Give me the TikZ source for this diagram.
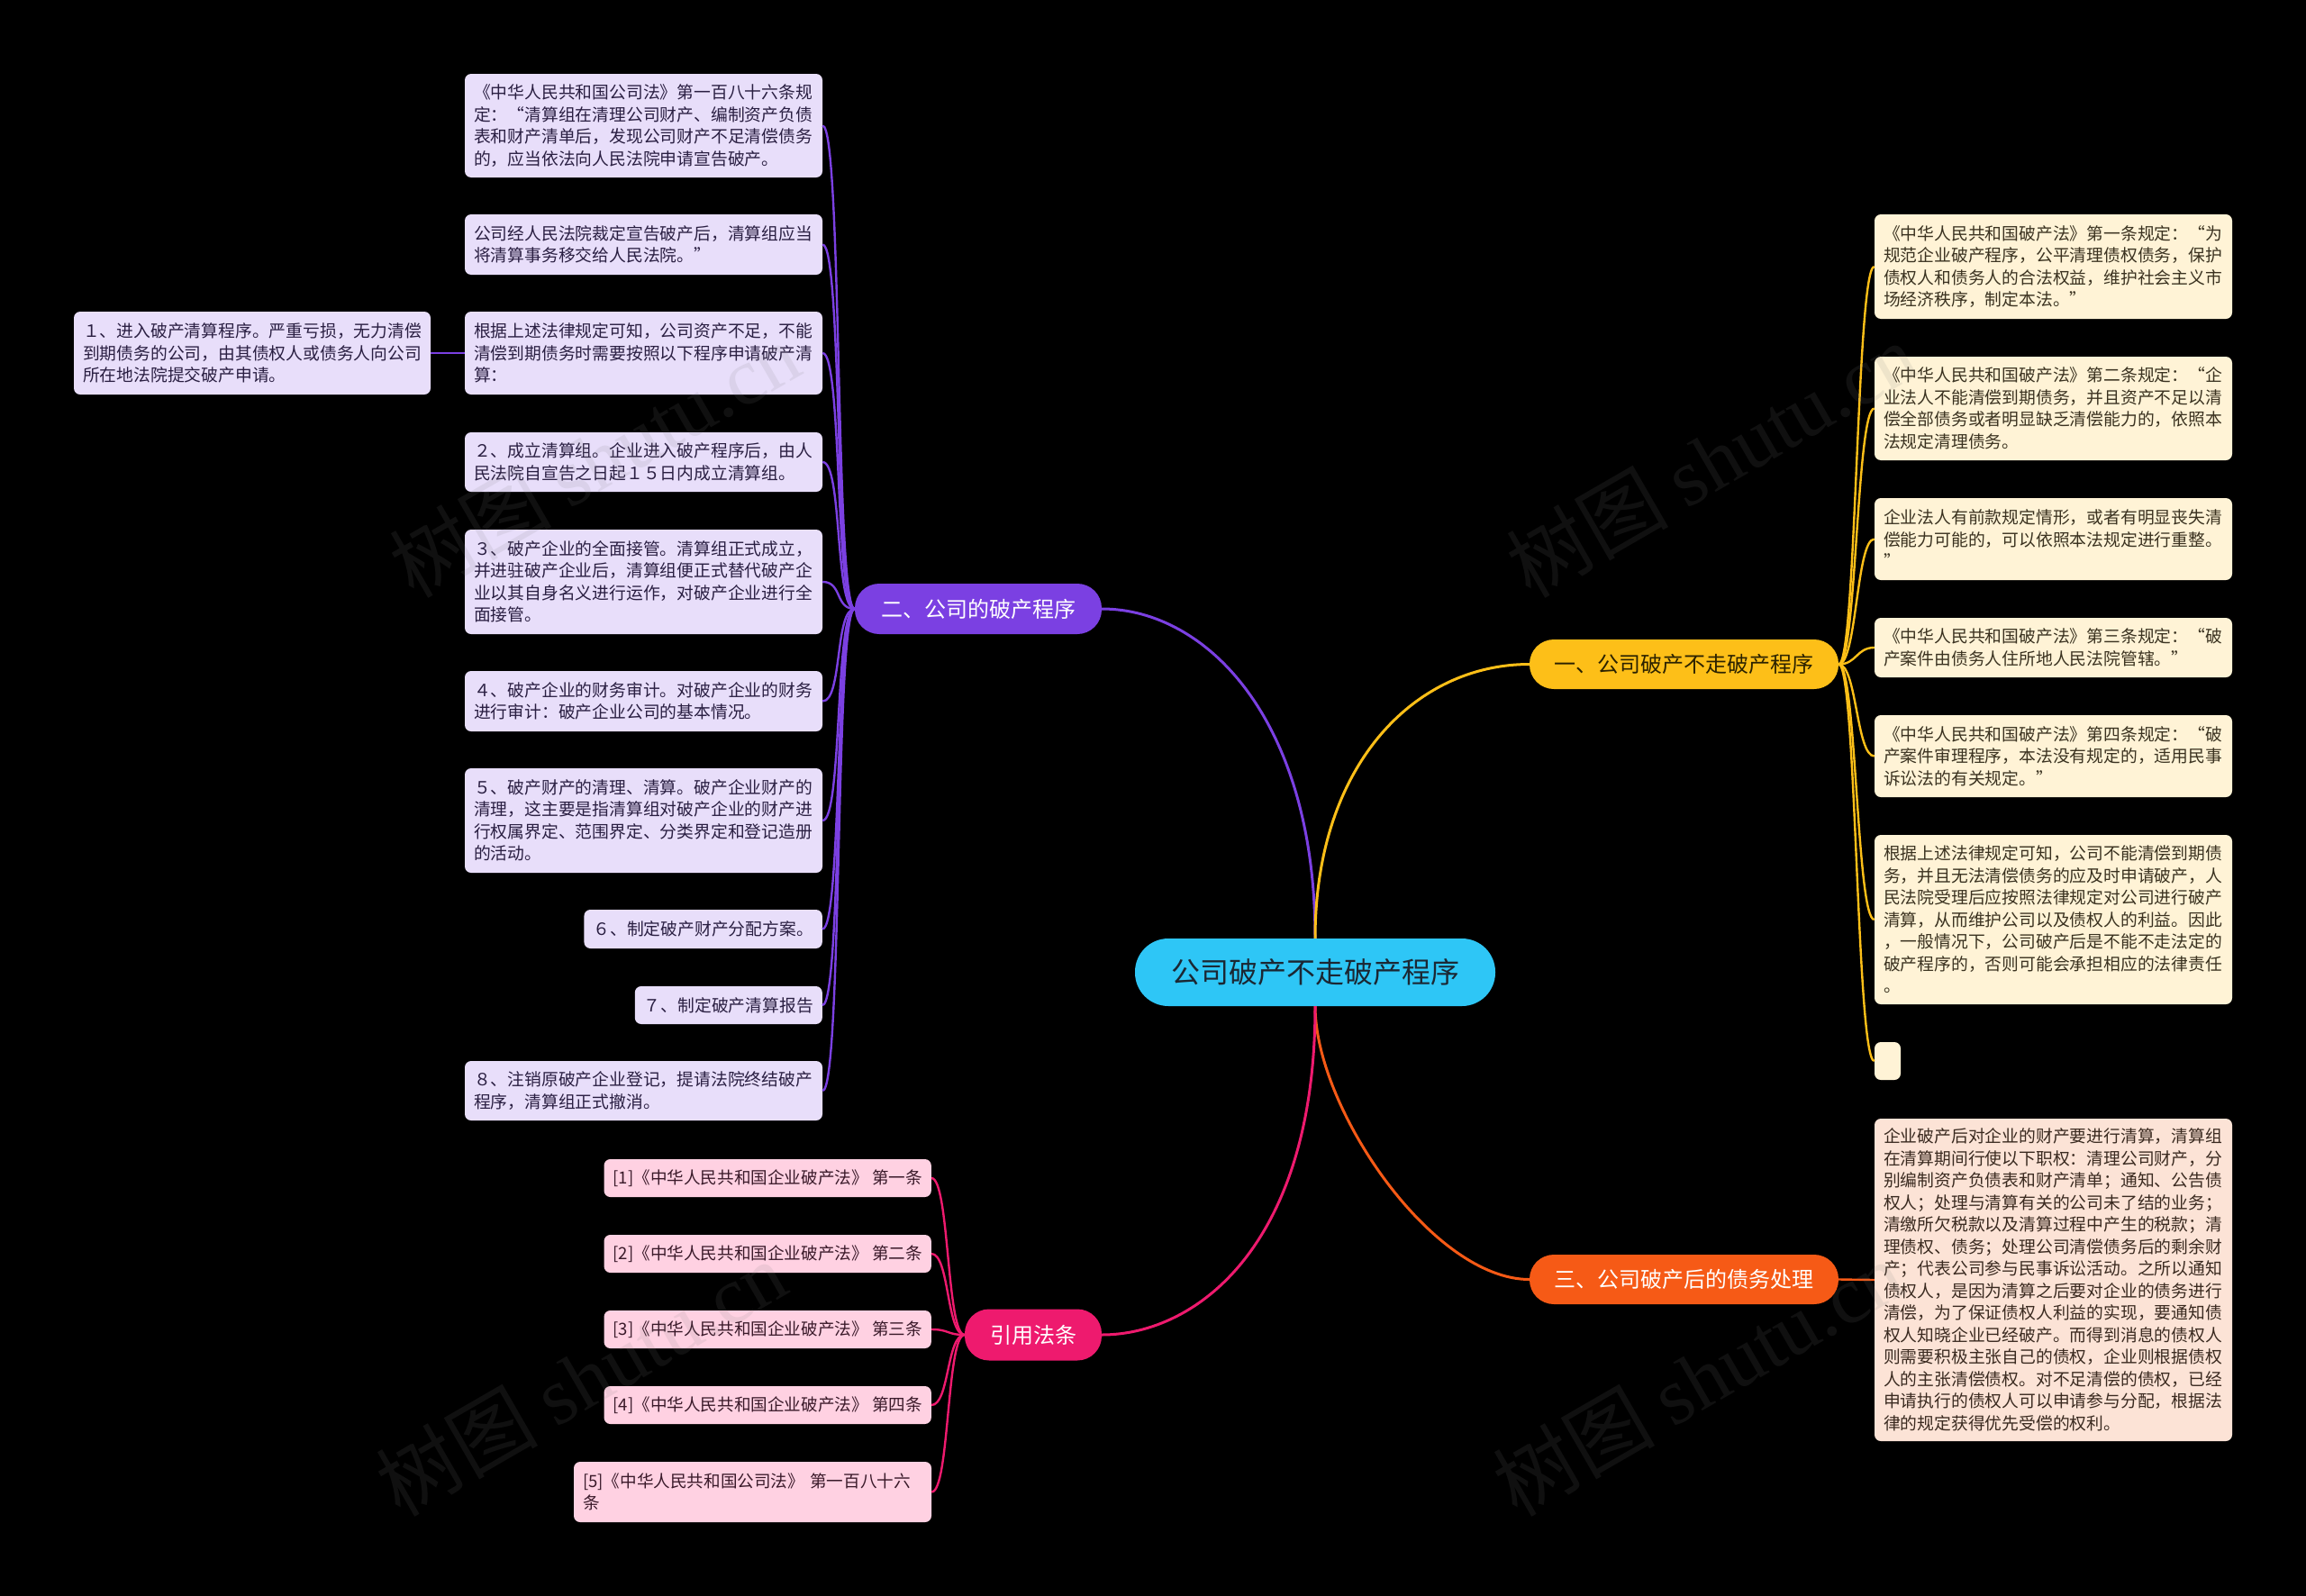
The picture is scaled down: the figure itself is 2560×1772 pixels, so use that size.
\documentclass[tikz,border=0pt]{standalone}
\usepackage{fontspec}
\newfontfamily\cjkf{Noto Sans CJK SC}
\newfontfamily\wmlat{Liberation Serif}
\definecolor{cenC}{HTML}{2EC6F6}
\definecolor{cenT}{HTML}{1B2733}
\definecolor{purC}{HTML}{7B40E2}
\definecolor{yelC}{HTML}{FDBF18}
\definecolor{oraC}{HTML}{F65A16}
\definecolor{pinC}{HTML}{EE1A6E}
\definecolor{purL}{HTML}{E8DEFA}
\definecolor{yelL}{HTML}{FFF3D6}
\definecolor{oraL}{HTML}{FCE3D6}
\definecolor{pinL}{HTML}{FFD1E2}
\definecolor{purT}{HTML}{2A1F42}
\definecolor{yelT}{HTML}{3A3220}
\definecolor{oraT}{HTML}{3A2A20}
\definecolor{pinT}{HTML}{3A1A2A}
\definecolor{yelMT}{HTML}{2B2200}
\definecolor{wmC}{HTML}{808080}
\begin{document}
\begin{tikzpicture}[x=1pt,y=-1pt,
  leafb/.style={rectangle, rounded corners=7pt, inner xsep=10pt, inner ysep=0pt, align=left,
    font=\cjkf\fontsize{18.8}{24.5}\selectfont},
  leaf/.style={leafb, text width=377pt},
  purleaf/.style={fill=purL, text=purT},
  yelleaf/.style={fill=yelL, text=yelT},
  oraleaf/.style={fill=oraL, text=oraT},
  pinleaf/.style={fill=pinL, text=pinT, font=\cjkf\fontsize{18.6}{24.5}\selectfont},
  mainbr/.style={rectangle, rounded corners=27pt, inner sep=0pt, font=\cjkf\fontsize{24}{28}\selectfont},
  rootnode/.style={rectangle, rounded corners=37pt, inner sep=0pt, fill=cenC, text=cenT,
    minimum width=400pt, minimum height=75pt, font=\cjkf\fontsize{32}{36}\selectfont},
  mainlink/.style={line width=3pt},
  sublink/.style={line width=2.4pt},
  wm/.style={text=wmC, opacity=0.13, font=\cjkf\fontsize{90}{100}\selectfont, rotate=30}
]
\fill[black] (0,0) rectangle (2560,1772);
\useasboundingbox (0,0) rectangle (2560,1772);

% root and main branches
\node[rootnode] (c) at (1460,1079.5) {公司破产不走破产程序};
\node[mainbr, fill=yelC, text=yelMT, minimum width=343pt, minimum height=55pt] (ym) at (1869.5,737.5) {一、公司破产不走破产程序};
\node[mainbr, fill=purC, text=white, minimum width=274pt, minimum height=56pt] (pm) at (1086,676) {二、公司的破产程序};
\node[mainbr, fill=oraC, text=white, minimum width=343pt, minimum height=55pt] (om) at (1869.5,1420.5) {三、公司破产后的债务处理};
\node[mainbr, fill=pinC, text=white, minimum width=152pt, minimum height=57pt] (km) at (1147,1482) {引用法条};

% purple leaves
\node[leaf, purleaf, minimum height=115pt] (p1) at (714.5,139.5) {《中华人民共和国公司法》第一百八十六条规\\定：“清算组在清理公司财产、编制资产负债\\表和财产清单后，发现公司财产不足清偿债务\\的，应当依法向人民法院申请宣告破产。};
\node[leaf, purleaf, minimum height=67pt] (p2) at (714.5,271.5) {公司经人民法院裁定宣告破产后，清算组应当\\将清算事务移交给人民法院。”};
\node[leaf, purleaf, minimum height=92pt] (p3) at (714.5,392) {根据上述法律规定可知，公司资产不足，不能\\清偿到期债务时需要按照以下程序申请破产清\\算：};
\node[leafb, purleaf, text width=376pt, minimum height=92pt] (q1) at (280,392) {１、进入破产清算程序。严重亏损，无力清偿\\到期债务的公司，由其债权人或债务人向公司\\所在地法院提交破产申请。};
\node[leaf, purleaf, minimum height=66pt] (p4) at (714.5,513) {２、成立清算组。企业进入破产程序后，由人\\民法院自宣告之日起１５日内成立清算组。};
\node[leaf, purleaf, minimum height=116pt] (p5) at (714.5,646) {３、破产企业的全面接管。清算组正式成立，\\并进驻破产企业后，清算组便正式替代破产企\\业以其自身名义进行运作，对破产企业进行全\\面接管。};
\node[leaf, purleaf, minimum height=67pt] (p6) at (714.5,778.5) {４、破产企业的财务审计。对破产企业的财务\\进行审计：破产企业公司的基本情况。};
\node[leaf, purleaf, minimum height=116pt] (p7) at (714.5,911) {５、破产财产的清理、清算。破产企业财产的\\清理，这主要是指清算组对破产企业的财产进\\行权属界定、范围界定、分类界定和登记造册\\的活动。};
\node[leafb, purleaf, minimum height=43pt, anchor=east] (p8) at (913,1031.5) {６、制定破产财产分配方案。};
\node[leafb, purleaf, minimum height=42pt, anchor=east] (p9) at (913,1116) {７、制定破产清算报告};
\node[leaf, purleaf, minimum height=66pt] (p10) at (714.5,1211) {８、注销原破产企业登记，提请法院终结破产\\程序，清算组正式撤消。};

% yellow leaves
\node[leaf, yelleaf, minimum height=116pt] (y1) at (2279.5,296) {《中华人民共和国破产法》第一条规定：“为\\规范企业破产程序，公平清理债权债务，保护\\债权人和债务人的合法权益，维护社会主义市\\场经济秩序，制定本法。”};
\node[leaf, yelleaf, minimum height=115pt] (y2) at (2279.5,453.5) {《中华人民共和国破产法》第二条规定：“企\\业法人不能清偿到期债务，并且资产不足以清\\偿全部债务或者明显缺乏清偿能力的，依照本\\法规定清理债务。};
\node[leaf, yelleaf, minimum height=91pt] (y3) at (2279.5,598.5) {企业法人有前款规定情形，或者有明显丧失清\\偿能力可能的，可以依照本法规定进行重整。\\”};
\node[leaf, yelleaf, minimum height=66pt] (y4) at (2279.5,719) {《中华人民共和国破产法》第三条规定：“破\\产案件由债务人住所地人民法院管辖。”};
\node[leaf, yelleaf, minimum height=91pt] (y5) at (2279.5,839.5) {《中华人民共和国破产法》第四条规定：“破\\产案件审理程序，本法没有规定的，适用民事\\诉讼法的有关规定。”};
\node[leaf, yelleaf, minimum height=188pt] (y6) at (2279.5,1021) {根据上述法律规定可知，公司不能清偿到期债\\务，并且无法清偿债务的应及时申请破产，人\\民法院受理后应按照法律规定对公司进行破产\\清算，从而维护公司以及债权人的利益。因此\\，一般情况下，公司破产后是不能不走法定的\\破产程序的，否则可能会承担相应的法律责任\\。};
\node[rectangle, rounded corners=7pt, fill=yelL, minimum width=29pt, minimum height=42pt, inner sep=0pt] (y7) at (2095.5,1178) {};

% orange leaf
\node[leaf, oraleaf, minimum height=358pt] (o1) at (2279.5,1421) {企业破产后对企业的财产要进行清算，清算组\\在清算期间行使以下职权：清理公司财产，分\\别编制资产负债表和财产清单；通知、公告债\\权人；处理与清算有关的公司未了结的业务；\\清缴所欠税款以及清算过程中产生的税款；清\\理债权、债务；处理公司清偿债务后的剩余财\\产；代表公司参与民事诉讼活动。之所以通知\\债权人，是因为清算之后要对企业的债务进行\\清偿，为了保证债权人利益的实现，要通知债\\权人知晓企业已经破产。而得到消息的债权人\\则需要积极主张自己的债权，企业则根据债权\\人的主张清偿债权。对不足清偿的债权，已经\\申请执行的债权人可以申请参与分配，根据法\\律的规定获得优先受偿的权利。};

% pink leaves
\node[leafb, pinleaf, minimum height=42pt, anchor=east] (k1) at (1034,1308) {[1]《中华人民共和国企业破产法》 第一条};
\node[leafb, pinleaf, minimum height=42pt, anchor=east] (k2) at (1034,1392) {[2]《中华人民共和国企业破产法》 第二条};
\node[leafb, pinleaf, minimum height=42pt, anchor=east] (k3) at (1034,1476) {[3]《中华人民共和国企业破产法》 第三条};
\node[leafb, pinleaf, minimum height=42pt, anchor=east] (k4) at (1034,1560) {[4]《中华人民共和国企业破产法》 第四条};
\node[leaf, pinleaf, minimum height=67pt] (k5) at (835.5,1656.5) {[5]《中华人民共和国公司法》 第一百八十六\\条};

% main connectors
\draw[mainlink, purC] (c.north) .. controls (1460,800) and (1340,676) .. (pm.east);
\draw[mainlink, yelC] (c.north) .. controls (1460,850) and (1570,737.5) .. (ym.west);
\draw[mainlink, oraC] (c.south) .. controls (1460,1230) and (1590,1420.5) .. (om.west);
\draw[mainlink, pinC] (c.south) .. controls (1460,1380) and (1330,1482) .. (km.east);

% sub connectors
\foreach \n in {p1,p2,p3,p4,p5,p6,p7,p8,p9,p10}
  \draw[sublink, purC] (pm.west) .. controls +(-22,0) and +(22,0) .. (\n.east);
\draw[sublink, purC] (p3.west) -- (q1.east);
\foreach \n in {y1,y2,y3,y4,y5,y6,y7}
  \draw[sublink, yelC] (ym.east) .. controls +(20,0) and +(-20,0) .. (\n.west);
\draw[sublink, oraC] (om.east) .. controls +(20,0) and +(-20,0) .. (o1.west);
\foreach \n in {k1,k2,k3,k4,k5}
  \draw[sublink, pinC] (km.west) .. controls +(-20,0) and +(20,0) .. (\n.east);

% watermarks
\node[wm] (w1) at (660,510) {树图 {\wmlat shutu.cn}};
\node[wm] (w2) at (1900,510) {树图 {\wmlat shutu.cn}};
\node[wm] (w3) at (645,1530) {树图 {\wmlat shutu.cn}};
\node[wm] (w4) at (1885,1530) {树图 {\wmlat shutu.cn}};
\end{tikzpicture}
\end{document}
